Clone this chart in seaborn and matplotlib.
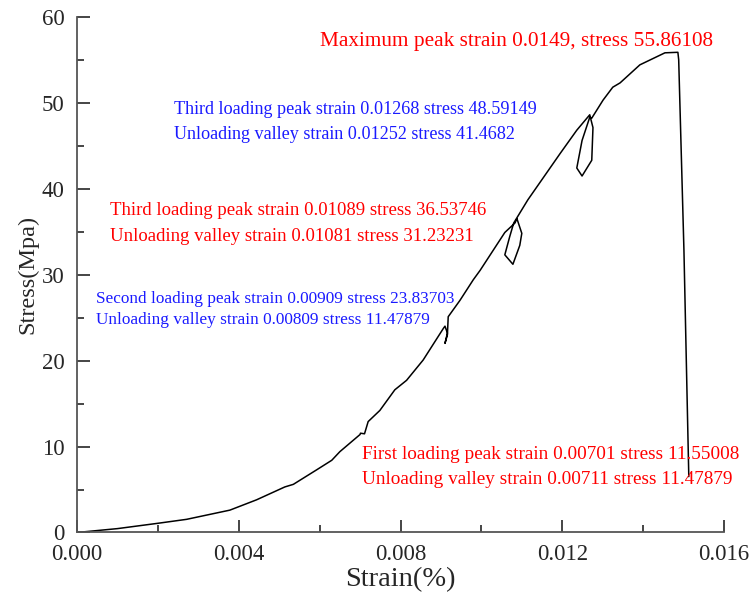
import matplotlib
matplotlib.use('Agg')
import matplotlib.pyplot as plt
from matplotlib.ticker import MultipleLocator
import numpy as np
import seaborn as sns

sns.set_style('ticks')
plt.rcParams['font.family'] = ['Liberation Serif', 'DejaVu Serif']

# stress-strain curve with three unloading/reloading loops
strain = [0.0, 0.0010, 0.0020, 0.00271, 0.00378, 0.00444, 0.00514, 0.00535,
          0.00593, 0.0063, 0.0065, 0.0070, 0.00701, 0.00711, 0.0072, 0.00749,
          0.00786, 0.00815, 0.00856, 0.00906, 0.0091, 0.00916, 0.0091, 0.00916,
          0.00918, 0.00947, 0.0098, 0.00997, 0.01058, 0.01083, 0.01088, 0.0110,
          0.01095, 0.01078, 0.01058, 0.0107, 0.0108, 0.01115, 0.01195, 0.01236,
          0.01268, 0.01276, 0.01273, 0.01249, 0.01236, 0.01249, 0.01268, 0.01273,
          0.01301, 0.01325, 0.01343, 0.01392, 0.01454, 0.01486, 0.01488, 0.01501,
          0.01513]
stress = [0.0, 0.45, 1.07, 1.53, 2.6, 3.8, 5.3, 5.6,
          7.3, 8.4, 9.4, 11.4, 11.55, 11.48, 12.9, 14.2,
          16.6, 17.7, 20.06, 23.74, 24.0, 23.2, 22.0, 23.0,
          25.1, 27.0, 29.4, 30.5, 34.9, 36.0, 36.5, 34.8,
          33.4, 31.2, 32.3, 34.4, 36.0, 38.7, 44.1, 46.8,
          48.59, 47.1, 43.3, 41.47, 42.4, 45.6, 48.3, 48.2,
          50.3, 51.8, 52.3, 54.4, 55.8, 55.86, 55.0, 32.8,
          6.5]

# annotation texts
notes_x = [0.00601, 0.00240, 0.00240, 0.00082, 0.00082, 0.00047, 0.00047, 0.00705, 0.00705]
notes_y = [57.15, 49.24, 46.34, 37.5, 34.48, 27.15, 24.71, 9.13, 6.22]
notes_txt = [
    'Maximum peak strain 0.0149, stress 55.86108',
    'Third loading peak strain 0.01268 stress 48.59149',
    'Unloading valley strain 0.01252 stress 41.4682',
    'Third loading peak strain 0.01089 stress 36.53746',
    'Unloading valley strain 0.01081 stress 31.23231',
    'Second loading peak strain 0.00909 stress 23.83703',
    'Unloading valley strain 0.00809 stress 11.47879',
    'First loading peak strain 0.00701 stress 11.55008',
    'Unloading valley strain 0.00711 stress 11.47879',
]
notes_col = ['#ff0000', '#1a1aff', '#1a1aff', '#ff0000', '#ff0000',
             '#1a1aff', '#1a1aff', '#ff0000', '#ff0000']
notes_size = [15.3, 13.1, 13.1, 13.5, 13.5, 12.4, 12.4, 13.9, 13.9]

fig = plt.figure(figsize=(7.5, 6.01), dpi=100)
ax = fig.add_axes([0.1027, 0.114, 0.8626, 0.8582])
sns.lineplot(x=strain, y=stress, sort=False, estimator=None, color='black',
             linewidth=1.1, ax=ax)

for x, y, t, c, s in zip(notes_x, notes_y, notes_txt, notes_col, notes_size):
    ax.text(x, y, t, color=c, fontsize=s, ha='left', va='center')

ax.set_xlim(0, 0.016)
ax.set_ylim(0, 60)
ax.xaxis.set_major_locator(MultipleLocator(0.004))
ax.xaxis.set_minor_locator(MultipleLocator(0.002))
ax.yaxis.set_major_locator(MultipleLocator(10))
ax.yaxis.set_minor_locator(MultipleLocator(5))
ax.xaxis.set_major_formatter(matplotlib.ticker.FormatStrFormatter('%.3f'))
ax.tick_params(which='major', direction='in', length=9, width=1.2)
ax.tick_params(which='minor', direction='in', length=5, width=1.2)
ax.tick_params(axis='x', labelsize=16.5, pad=8)
ax.tick_params(axis='y', labelsize=16.5, pad=9)
sns.despine(ax=ax)
for sp in ['left', 'bottom']:
    ax.spines[sp].set_color('#555555')
    ax.spines[sp].set_linewidth(1.3)
ax.set_xlabel('Strain(%)', fontsize=20.5, labelpad=2)
ax.set_ylabel('Stress(Mpa)', fontsize=17.5, labelpad=2)

fig.savefig('out.png', dpi=100)
